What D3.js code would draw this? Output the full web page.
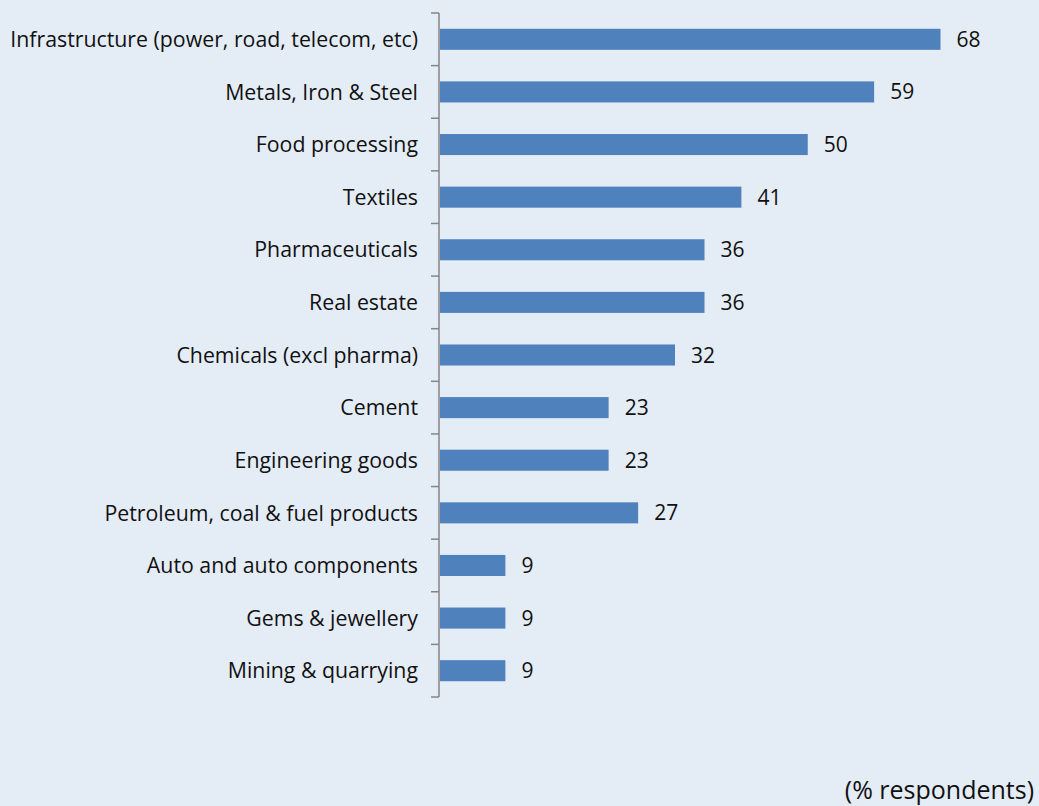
<!DOCTYPE html>
<html>
<head>
<meta charset="utf-8">
<script src="https://cdn.jsdelivr.net/npm/d3@7"></script>
<style>
  html, body { margin: 0; padding: 0; background: #e4ecf6; }
  svg { display: block; }
</style>
</head>
<body>
<div id="chart"></div>
<script>
// Sectors, top to bottom
const categories = [
  'Infrastructure (power, road, telecom, etc)',
  'Metals, Iron & Steel',
  'Food processing',
  'Textiles',
  'Pharmaceuticals',
  'Real estate',
  'Chemicals (excl pharma)',
  'Cement',
  'Engineering goods',
  'Petroleum, coal & fuel products',
  'Auto and auto components',
  'Gems & jewellery',
  'Mining & quarrying'
];
const values = [68, 59, 50, 41, 36, 36, 32, 23, 23, 27, 9, 9, 9];
const unitLabel = '(% respondents)';

const width = 1039, height = 806;
const margin = { top: 13, left: 439, bottom: 109 };
const font = '"Open Sans", Lato, sans-serif';

const svg = d3.select('#chart').append('svg')
  .attr('width', width)
  .attr('height', height);

svg.append('rect')
  .attr('width', width)
  .attr('height', height)
  .attr('fill', '#e4ecf6');

const x = d3.scaleLinear()
  .domain([0, 80])
  .range([margin.left, margin.left + 590]);

const y = d3.scaleBand()
  .domain(categories)
  .range([margin.top, height - margin.bottom])
  .paddingInner(0.6)
  .paddingOuter(0.3);

// bars
svg.selectAll('.bar')
  .data(values)
  .enter()
  .append('rect')
  .attr('class', 'bar')
  .attr('x', x(0) + 1)
  .attr('y', (d, i) => y(categories[i]))
  .attr('width', d => x(d) - x(0) - 1)
  .attr('height', y.bandwidth())
  .attr('fill', '#4f81bd');

// value labels
svg.selectAll('.val')
  .data(values)
  .enter()
  .append('text')
  .attr('class', 'val')
  .attr('x', d => x(d) + 16)
  .attr('y', (d, i) => y(categories[i]) + y.bandwidth() / 2)
  .attr('dy', '0.36em')
  .style('font-family', font)
  .style('font-size', '21px')
  .style('fill', '#111')
  .text(d => d);

// category axis (left, ticks at band edges)
const axisG = svg.append('g').attr('class', 'axis');
const y0 = y.range()[0], y1 = y.range()[1];

axisG.append('line')
  .attr('x1', margin.left).attr('x2', margin.left)
  .attr('y1', y0).attr('y2', y1)
  .attr('stroke', '#868686')
  .attr('stroke-width', 1.5);

const edges = d3.range(categories.length + 1).map(i => y0 + (y1 - y0) * i / categories.length);
axisG.selectAll('.tick')
  .data(edges)
  .enter()
  .append('line')
  .attr('x1', margin.left - 8).attr('x2', margin.left)
  .attr('y1', d => d).attr('y2', d => d)
  .attr('stroke', '#868686')
  .attr('stroke-width', 1.5);

axisG.selectAll('.cat')
  .data(categories)
  .enter()
  .append('text')
  .attr('class', 'cat')
  .attr('x', margin.left - 21)
  .attr('y', d => y(d) + y.bandwidth() / 2)
  .attr('dy', '0.36em')
  .attr('text-anchor', 'end')
  .style('font-family', font)
  .style('font-size', '21.3px')
  .style('fill', '#111')
  .text(d => d);

svg.append('text')
  .attr('x', 1034)
  .attr('y', 799)
  .attr('text-anchor', 'end')
  .style('font-family', font)
  .style('font-size', '25px')
  .style('fill', '#111')
  .text(unitLabel);
</script>
</body>
</html>
